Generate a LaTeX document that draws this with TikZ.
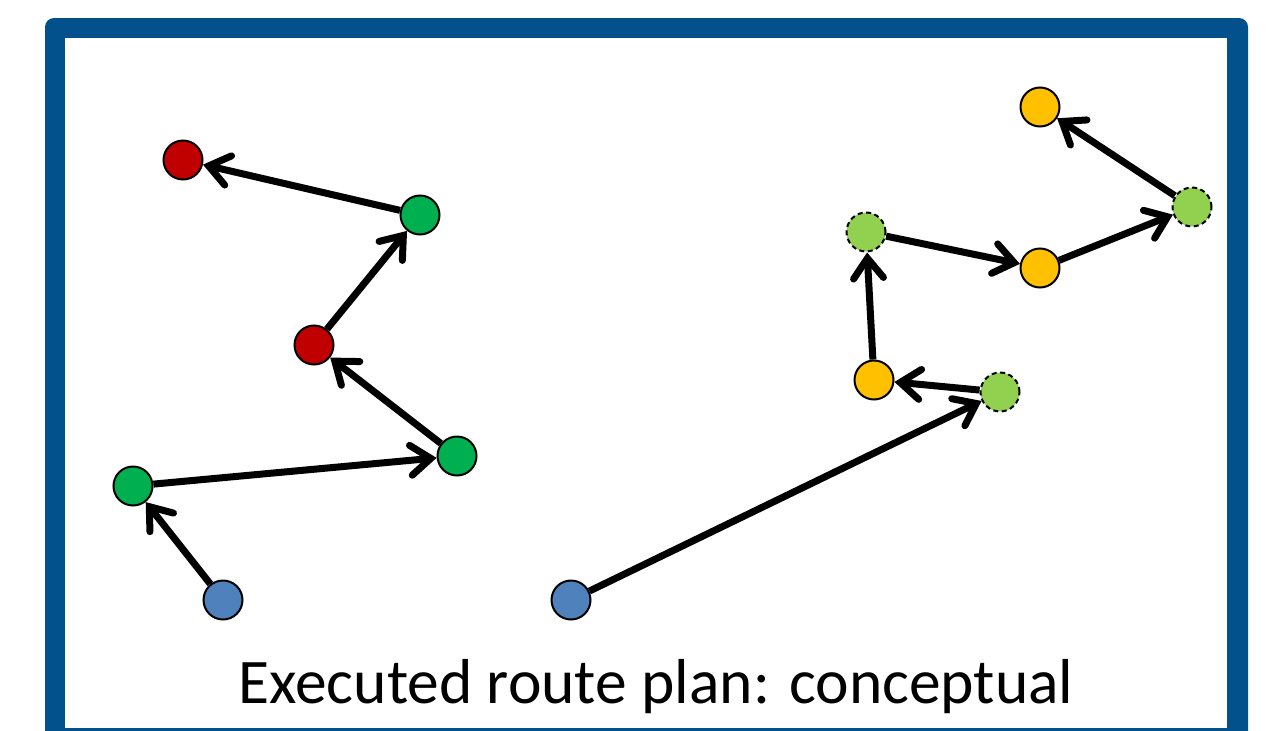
\documentclass[tikz,border=0pt]{standalone}
\usepackage{fontspec}
\setmainfont{Carlito}
\usetikzlibrary{arrows.meta}
\definecolor{frameblue}{RGB}{2,80,140}
\definecolor{dotblue}{RGB}{79,129,189}
\definecolor{dotgreen}{RGB}{0,176,80}
\definecolor{dotred}{RGB}{192,0,0}
\definecolor{dotlgreen}{RGB}{146,208,80}
\definecolor{dotorange}{RGB}{255,192,0}
\tikzset{
  dot/.style={circle, draw=black, line width=2pt, minimum size=39pt, inner sep=0pt},
  dashdot/.style={dot, dash pattern=on 5pt off 3.5pt},
  route/.style={line width=7pt, -{Straight Barb[length=20pt,width=30pt,line width=7pt,line cap=round]}, shorten >=0pt},
}
\begin{document}
\begin{tikzpicture}[x=1pt,y=-1pt]
\useasboundingbox (0,0) rectangle (1272,731);
\fill[frameblue, rounded corners=9pt] (45,18) rectangle (1248,780);
\fill[white] (65,38) rectangle (1227,728);
% left chain
\node[dot, fill=dotblue]  (b1) at (223,600) {};
\node[dot, fill=dotgreen] (g1) at (133,486) {};
\node[dot, fill=dotgreen] (g2) at (457,456) {};
\node[dot, fill=dotred]   (r2) at (314,345) {};
\node[dot, fill=dotgreen] (g3) at (420,215) {};
\node[dot, fill=dotred]   (r1) at (183,160) {};
\draw[route] (b1) -- (g1);
\draw[route] (g1) -- (g2);
\draw[route] (g2) -- (r2);
\draw[route] (r2) -- (g3);
\draw[route] (g3) -- (r1);
% right chain
\node[dot, fill=dotblue]       (b2) at (571,600) {};
\node[dashdot, fill=dotlgreen] (l1) at (1000,392) {};
\node[dot, fill=dotorange]     (o1) at (874,380) {};
\node[dashdot, fill=dotlgreen] (l2) at (866,232) {};
\node[dot, fill=dotorange]     (o2) at (1040,268) {};
\node[dashdot, fill=dotlgreen] (l3) at (1192,207) {};
\node[dot, fill=dotorange]     (o3) at (1040,107) {};
\draw[route] (b2) -- (l1);
\draw[route] (l1) -- (o1);
\draw[route] (o1) -- (l2);
\draw[route] (l2) -- (o2);
\draw[route] (o2) -- (l3);
\draw[route] (l3) -- (o3);
\node[anchor=base, inner sep=0pt, font=\fontsize{63.5}{72}\selectfont] (title) at (656,703) {Executed route plan: conceptual};
\end{tikzpicture}
\end{document}
